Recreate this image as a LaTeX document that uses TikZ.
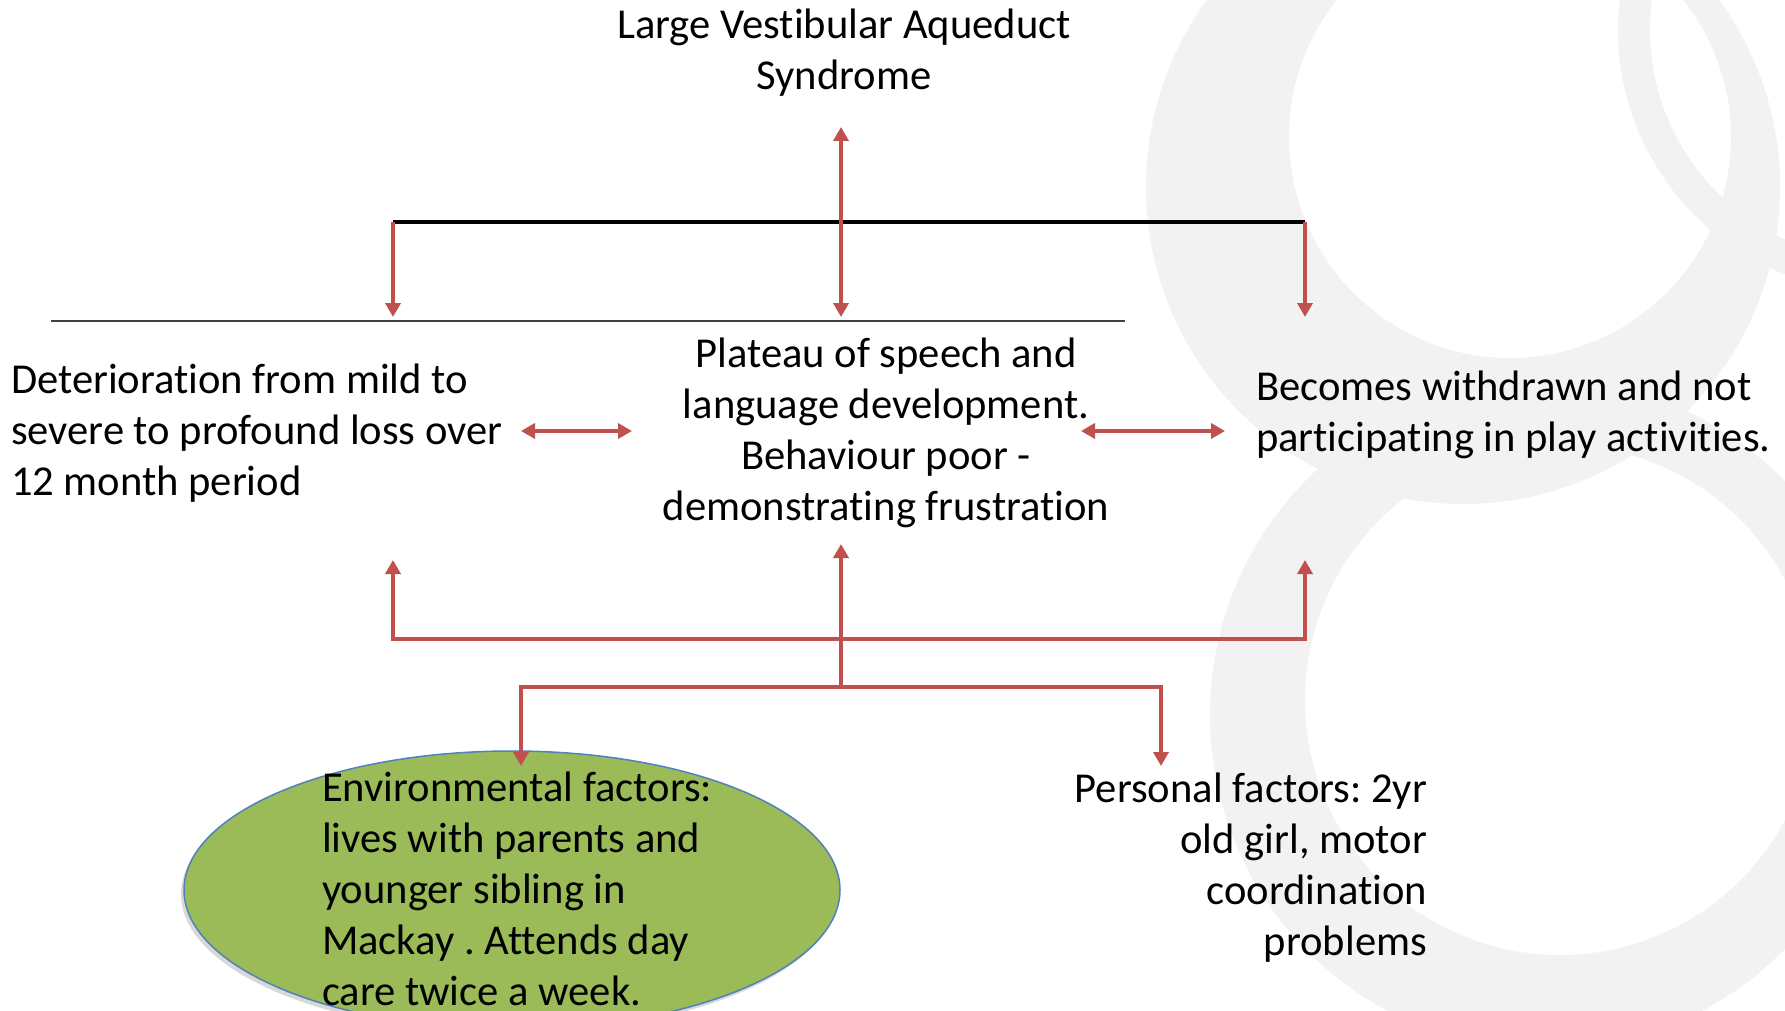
\documentclass[tikz,border=0pt]{standalone}
\usepackage{fontspec}
\setmainfont{Carlito}[Ligatures={NoCommon,NoContextual}]
\usetikzlibrary{arrows.meta,shapes.geometric,shadows}
\definecolor{ringgray}{RGB}{242,242,242}
\definecolor{arrred}{RGB}{192,80,77}
\definecolor{envgreen}{RGB}{155,187,89}
\definecolor{envblue}{RGB}{79,129,189}
\definecolor{rulegray}{RGB}{64,64,64}
\begin{document}
\frenchspacing
\begin{tikzpicture}[x=1pt,y=-1pt,
  txt/.style={font=\fontsize{42.6}{51}\selectfont, inner sep=0pt, outer sep=0pt, text=black},
  redline/.style={draw=arrred, line width=3.5pt, line join=miter},
  tip/.tip={Triangle[length=14pt,width=15pt]},
  redone/.style={redline, -tip},
  redtwo/.style={redline, tip-tip},
  blackbar/.style={draw=black, line width=4.3pt},
  thinrule/.style={draw=rulegray, line width=1.5pt},
  envshape/.style={ellipse, draw=envblue, line width=1.5pt, fill=envgreen,
    minimum width=656pt, minimum height=278pt, inner sep=0pt,
    drop shadow={shadow xshift=-3pt, shadow yshift=-4pt, opacity=0.25, fill=black!60}}
]
\useasboundingbox (0,0) rectangle (1785,1011);
\fill[white] (0,0) rectangle (1785,1011);
% background rings
\begin{scope}
  \clip (0,0) rectangle (1785,1011);
  \fill[ringgray, even odd rule] (1463,187) circle[radius=317pt] (1510,137) circle[radius=221pt];
  \fill[ringgray, even odd rule] (1545,715) circle[radius=335pt] (1560,700) circle[radius=255pt];
  \fill[ringgray, even odd rule] (1880,30) circle[radius=262pt] (1880,30) circle[radius=230pt];
\end{scope}

% text nodes
\node[txt, align=center, anchor=north] (title) at (844,7)
  {\rule{0pt}{32pt}Large Vestibular Aqueduct\\Syndrome};
\node[txt, align=left, anchor=north west] (det) at (11,361)
  {\rule{0pt}{32pt}Deterioration from mild to\\severe to profound loss over\\12 month period};
\node[txt, align=center, anchor=north] (plateau) at (886,335)
  {\rule{0pt}{32pt}Plateau of speech and\\language development.\\Behaviour poor -\\demonstrating frustration};
\node[txt, align=left, anchor=north west] (withdrawn) at (1256,368)
  {\rule{0pt}{32pt}Becomes withdrawn and not\\participating in play activities.};
\node[txt, align=right, anchor=north east] (personal) at (1427,770)
  {\rule{0pt}{32pt}Personal factors: 2yr\\old girl, motor\\coordination\\problems};

% environment ellipse
\node[envshape] (env) at (512,890) {};
\node[txt, align=left, anchor=north west] (envtext) at (322,769)
  {\rule{0pt}{32pt}Environmental factors:\\lives with parents and\\younger sibling in\\Mackay . Attends day\\care twice a week.};

% coordinates for connector ends
\coordinate (barL) at (393,222);
\coordinate (barR) at (1305,222);
\coordinate (titleTip) at (841,127);
\coordinate (detTop) at (393,317);
\coordinate (platTop) at (841,317);
\coordinate (withTop) at (1305,317);
\coordinate (detBot) at (393,560);
\coordinate (withBot) at (1305,560);
\coordinate (platBot) at (841,544);
\coordinate (brkL) at (393,639);
\coordinate (brkR) at (1305,639);
\coordinate (lowC) at (841,687);
\coordinate (lowL) at (521,687);
\coordinate (lowR) at (1161,687);
\coordinate (envTip) at (521,766);
\coordinate (persTip) at (1161,766);
\coordinate (ruleL) at (51,321);
\coordinate (ruleR) at (1125,321);
\coordinate (dl1) at (521,431);
\coordinate (dl2) at (632,431);
\coordinate (dr1) at (1081,431);
\coordinate (dr2) at (1225,431);

% connectors
\draw[thinrule] (ruleL) -- (ruleR);
\draw[blackbar] (barL) -- (barR);
\draw[redone] (barL) -- (detTop);
\draw[redone] (barR) -- (withTop);
\draw[redtwo] (titleTip) -- (platTop);
\draw[redtwo] (dl1) -- (dl2);
\draw[redtwo] (dr1) -- (dr2);
\draw[redtwo] (detBot) -- (brkL) -- (brkR) -- (withBot);
\draw[redone] (lowC) -- (platBot);
\draw[redtwo] (envTip) -- (lowL) -- (lowR) -- (persTip);
\end{tikzpicture}
\end{document}
